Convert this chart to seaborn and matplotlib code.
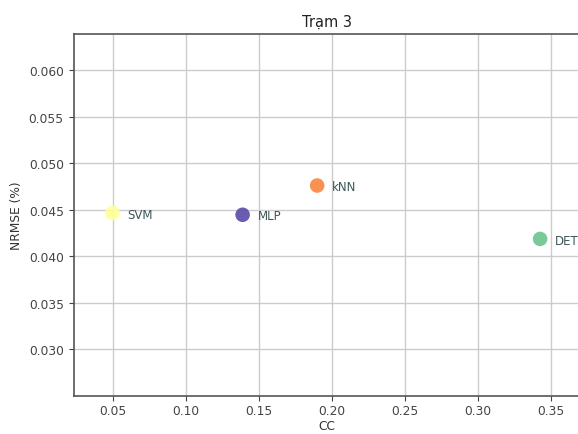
import matplotlib
matplotlib.use("Agg")
import matplotlib.pyplot as plt
import seaborn as sns
import pandas as pd

models = ["SVM", "MLP", "kNN", "DET"]
cc = [0.050, 0.139, 0.190, 0.3425]
nrmse = [0.04465, 0.04446, 0.04761, 0.04186]
colors = ["#ffff99", "#5a4aa8", "#fa8540", "#6cc58e"]
x_ticks = [0.05, 0.10, 0.15, 0.20, 0.25, 0.30, 0.35]
y_ticks = [0.030, 0.035, 0.040, 0.045, 0.050, 0.055, 0.060]

df = pd.DataFrame({"model": models, "CC": cc, "NRMSE": nrmse})

sns.set_style("ticks")
plt.rcParams["font.family"] = ["DejaVu Sans"]

fig = plt.figure(figsize=(5.78, 4.35), dpi=100)
ax = fig.add_axes([73.5 / 578, 38 / 435, (580 - 73.5) / 578, (397 - 35) / 435])

ax.grid(True, color="#cccccc", linewidth=1.0, zorder=0)
ax.set_axisbelow(True)

sns.scatterplot(data=df, x="CC", y="NRMSE", hue="model",
                palette=dict(zip(models, colors)), s=110, linewidth=0,
                alpha=0.9, legend=False, ax=ax, zorder=3)

for m, x, y in zip(models, cc, nrmse):
    ax.text(x + 0.0102, y - 0.00012, m, color="#3d5656", fontsize=8.5,
            va="center", ha="left", zorder=4)

ax.set_xlim(0.0233, 0.3698)
ax.set_ylim(0.02495, 0.06392)
ax.set_xticks(x_ticks)
ax.set_yticks(y_ticks)
ax.set_xticklabels([f"{v:.2f}" for v in x_ticks])
ax.set_yticklabels([f"{v:.3f}" for v in y_ticks])
ax.tick_params(labelsize=8.8, colors="#444444", length=3.5, width=0.8)
ax.tick_params(axis="x", pad=2.5)
for s in ax.spines.values():
    s.set_color("#555555")
    s.set_linewidth(1.2)
ax.spines["right"].set_visible(False)

ax.set_xlabel("CC", fontsize=8.8, color="#333333", labelpad=1)
ax.set_ylabel("NRMSE (%)", fontsize=8.8, color="#333333", labelpad=4)
ax.set_title("Trạm 3", fontsize=10.5, color="#222222", pad=6)

fig.savefig("out.png", dpi=100)
